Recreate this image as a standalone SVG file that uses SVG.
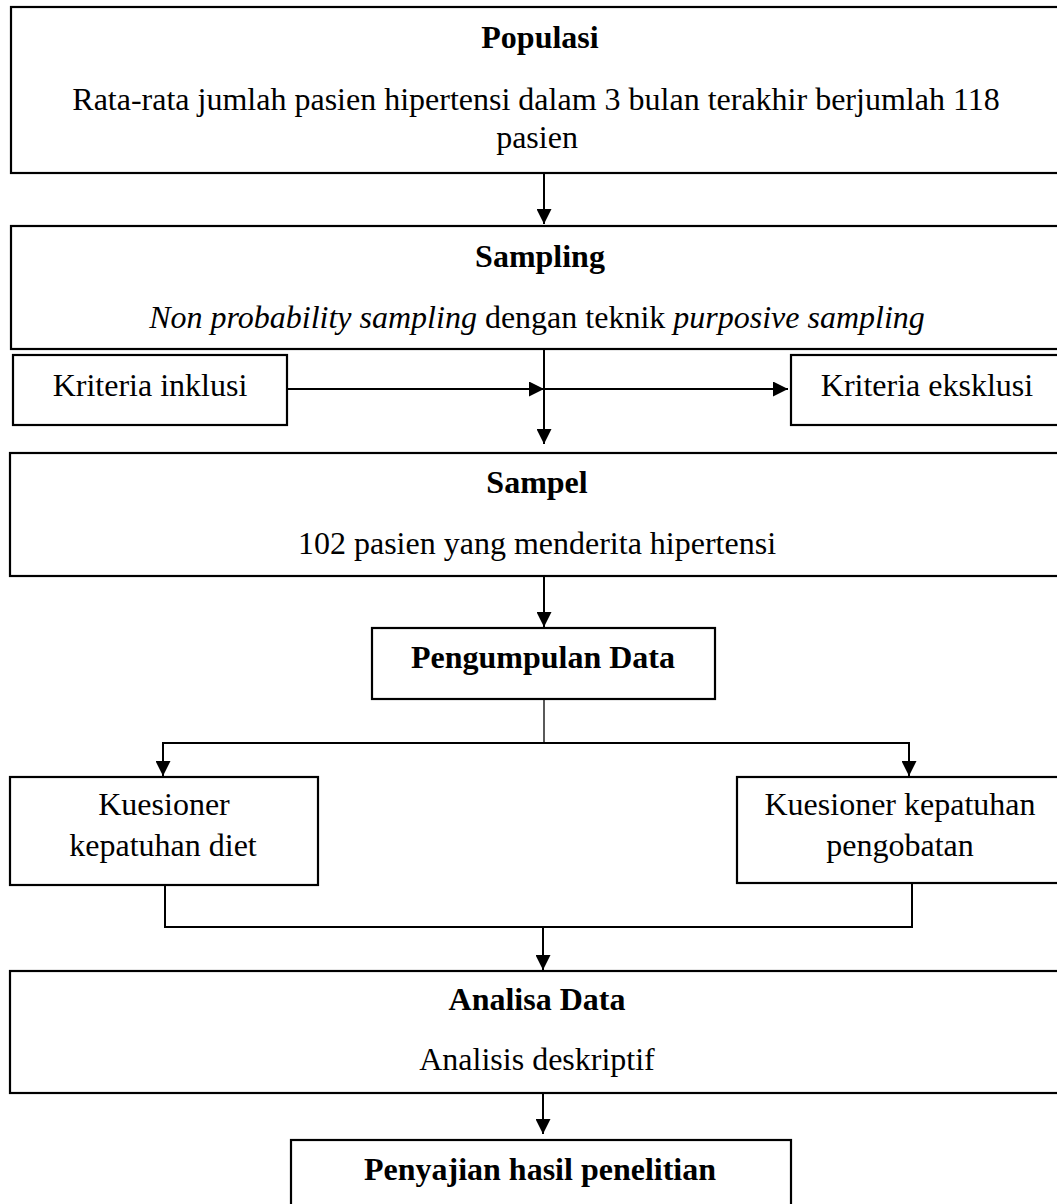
<svg xmlns="http://www.w3.org/2000/svg" width="1057" height="1204" viewBox="0 0 1057 1204">
<style>
  .box { fill: #fff; stroke: #000; stroke-width: 2.2; }
  .t { font-family: "Liberation Serif", "Times New Roman", serif; font-size: 32px; fill: #000; text-anchor: middle; }
  .b { font-weight: bold; }
  .i { font-style: italic; }
  .c { fill: none; stroke: #000; stroke-width: 2; }
  .c1 { fill: none; stroke: #000; stroke-width: 1.3; }
</style>
<defs>
  <marker id="ah" viewBox="0 0 15 15" refX="15" refY="7.5" markerWidth="15" markerHeight="15" markerUnits="userSpaceOnUse" orient="auto">
    <path d="M0,0 L15,7.5 L0,15 Z" fill="#000"/>
  </marker>
</defs>
<rect width="1057" height="1204" fill="#fff"/>
<g id="connectors">
  <line class="c" x1="544" y1="173" x2="544" y2="224" marker-end="url(#ah)"/>
  <line class="c" x1="544" y1="349" x2="544" y2="444" marker-end="url(#ah)"/>
  <line class="c" x1="287" y1="389" x2="544" y2="389" marker-end="url(#ah)"/>
  <line class="c" x1="544" y1="389" x2="788" y2="389" marker-end="url(#ah)"/>
  <line class="c" x1="544" y1="576" x2="544" y2="627" marker-end="url(#ah)"/>
  <line class="c1" x1="544" y1="699" x2="544" y2="743"/>
  <polyline class="c" points="163,776 163,743 909,743 909,776"/>
  <line class="c" x1="163" y1="743" x2="163" y2="776" marker-end="url(#ah)"/>
  <line class="c" x1="909" y1="743" x2="909" y2="776" marker-end="url(#ah)"/>
  <polyline class="c" points="165,885 165,927 912,927 912,883"/>
  <line class="c" x1="543" y1="927" x2="543" y2="970" marker-end="url(#ah)"/>
  <line class="c" x1="543" y1="1093" x2="543" y2="1134" marker-end="url(#ah)"/>
</g>
<g id="populasi">
  <rect class="box" x="11" y="7" width="1070" height="166"/>
  <text class="t b" x="540" y="48">Populasi</text>
  <text class="t" x="536" y="110">Rata-rata jumlah pasien hipertensi dalam 3 bulan terakhir berjumlah 118</text>
  <text class="t" x="537" y="148">pasien</text>
</g>
<g id="sampling">
  <rect class="box" x="11" y="226" width="1070" height="123"/>
  <text class="t b" x="540" y="267">Sampling</text>
  <text class="t" x="537" y="328"><tspan class="i">Non probability sampling</tspan> dengan teknik <tspan class="i">purposive sampling</tspan></text>
</g>
<g id="inklusi">
  <rect class="box" x="13" y="355" width="274" height="70"/>
  <text class="t" x="150" y="396">Kriteria inklusi</text>
</g>
<g id="eksklusi">
  <rect class="box" x="791" y="355" width="290" height="70"/>
  <text class="t" x="927" y="396">Kriteria eksklusi</text>
</g>
<g id="sampel">
  <rect class="box" x="10" y="453" width="1070" height="123"/>
  <text class="t b" x="537" y="493">Sampel</text>
  <text class="t" x="537" y="554">102 pasien yang menderita hipertensi</text>
</g>
<g id="pengumpulan">
  <rect class="box" x="372" y="628" width="343" height="71"/>
  <text class="t b" x="543" y="668">Pengumpulan Data</text>
</g>
<g id="kuesioner-diet">
  <rect class="box" x="10" y="777" width="308" height="108"/>
  <text class="t" x="164" y="815">Kuesioner</text>
  <text class="t" x="163" y="856">kepatuhan diet</text>
</g>
<g id="kuesioner-obat">
  <rect class="box" x="737" y="777" width="340" height="106"/>
  <text class="t" x="900" y="815">Kuesioner kepatuhan</text>
  <text class="t" x="900" y="856">pengobatan</text>
</g>
<g id="analisa">
  <rect class="box" x="10" y="971" width="1070" height="122"/>
  <text class="t b" x="537" y="1010">Analisa Data</text>
  <text class="t" x="537" y="1070">Analisis deskriptif</text>
</g>
<g id="penyajian">
  <rect class="box" x="291" y="1140" width="500" height="80"/>
  <text class="t b" x="540" y="1180">Penyajian hasil penelitian</text>
</g>
</svg>
